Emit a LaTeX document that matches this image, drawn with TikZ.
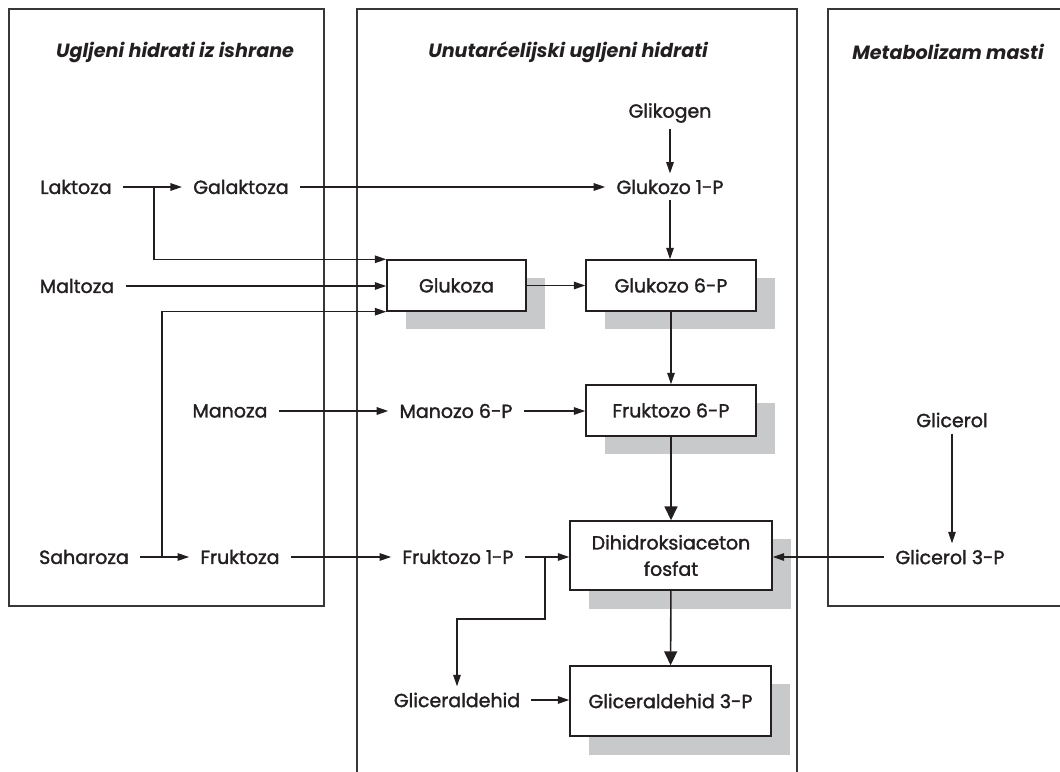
\documentclass[tikz,border=0pt]{standalone}
\usepackage{fontspec}
\setmainfont{Poppins}[UprightFeatures={FakeBold=1.6}]
\usetikzlibrary{arrows.meta,shadows,calc}
\definecolor{ink}{RGB}{35,31,32}
\definecolor{frame}{RGB}{55,55,55}
\definecolor{shade}{RGB}{200,201,203}
\tikzset{
  arr/.style={-{Triangle[length=2.3mm,width=1.5mm]},line width=0.8pt,draw=ink},
  big/.style={-{Triangle[length=2.8mm,width=2.6mm]},line width=0.9pt,draw=ink},
  panel/.style={draw=frame,line width=1pt},
  ttl/.style={font=\fontsize{10.9}{12}\selectfont\bfseries\itshape,text=ink},
  sug/.style={font=\fontsize{10.8}{15}\selectfont,text=ink,inner xsep=2.2mm,inner ysep=1.2mm},
  box/.style={sug,draw=ink,line width=0.8pt,fill=white,minimum height=10.2mm,align=center,
    general shadow={fill=shade,draw=none,shadow xshift=3.7mm,shadow yshift=-3.7mm}}
}
\begin{document}
\begin{tikzpicture}[x=0.2mm,y=-0.2mm]
  \useasboundingbox (0,0) rectangle (1060,772);
  \begin{scope}
    \clip (0,0) rectangle (1060,772);
    \draw[panel] (9,9) rectangle (324,606);
    \draw[panel] (357,780)--(357,9)--(797,9)--(797,780);
    \draw[panel] (1070,9)--(828,9)--(828,606)--(1070,606);
  \end{scope}

  \node[ttl] (t1) at (175,52) {Ugljeni hidrati iz ishrane};
  \node[ttl] (t2) at (568,52) {Unutarćelijski ugljeni hidrati};
  \node[ttl] (t3) at (948,52) {Metabolizam masti};

  \node[sug] (lak) at (76,187) {Laktoza};
  \node[sug] (gal) at (241,187) {Galaktoza};
  \node[sug] (mal) at (77,286) {Maltoza};
  \node[sug] (man) at (230,411) {Manoza};
  \node[sug] (sah) at (84,557) {Saharoza};
  \node[sug] (fru) at (240,557) {Fruktoza};
  \node[sug] (gly) at (670,113) {Glikogen};
  \node[sug] (g1p) at (670,187) {Glukozo 1-P};
  \node[box,minimum width=27.8mm] (glu) at (456.5,285.5) {Glukoza};
  \node[box,minimum width=34mm] (g6p) at (671,285.5) {Glukozo 6-P};
  \node[sug] (m6p) at (456,411) {Manozo 6-P};
  \node[box,minimum width=34mm] (f6p) at (671,410.5) {Fruktozo 6-P};
  \node[sug] (f1p) at (458,557) {Fruktozo 1-P};
  \node[box,minimum width=40.4mm,minimum height=13.8mm] (dhap) at (671,555.5) {Dihidroksiaceton\\fosfat};
  \node[sug] (gla) at (457,700) {Gliceraldehid};
  \node[box,minimum width=40.2mm,minimum height=14mm] (g3p) at (670.5,701) {Gliceraldehid 3-P};
  \node[sug] (gcl) at (952,420) {Glicerol};
  \node[sug] (gc3) at (950,557) {Glicerol 3-P};

  \coordinate (labr) at (154,187);
  \coordinate (sabr) at (162,557);
  \coordinate (f1br) at (545,557);

  \draw[arr] (lak) -- (gal);
  \draw[arr] (labr) |- (glu.north west);
  \draw[arr] (mal) -- (mal -| glu.west);
  \draw[arr] (sah) -- (fru);
  \draw[arr] (sabr) |- (glu.south west);
  \draw[arr] (gal) -- (gal -| g1p.west);
  \draw[arr] (gly) -- (g1p);
  \draw[arr] (g1p) -- (g1p |- g6p.north);
  \draw[arr] (glu) -- (g6p);
  \draw[arr] (g6p) -- (f6p);
  \draw[arr] (man) -- (m6p);
  \draw[arr] (m6p) -- (m6p -| f6p.west);
  \draw[big] (f6p) -- (dhap);
  \draw[arr] (fru) -- (f1p);
  \draw[arr] (f1p) -- (f1p -| dhap.west);
  \draw[arr] (f1br) -- ++(0,62) -| (gla);
  \draw[arr] (gcl) -- (gcl |- gc3.north);
  \draw[arr] (gc3) -- (gc3 -| dhap.east);
  \draw[big] (dhap) -- (g3p);
  \draw[arr] (gla) -- (gla -| g3p.west);
\end{tikzpicture}
\end{document}
